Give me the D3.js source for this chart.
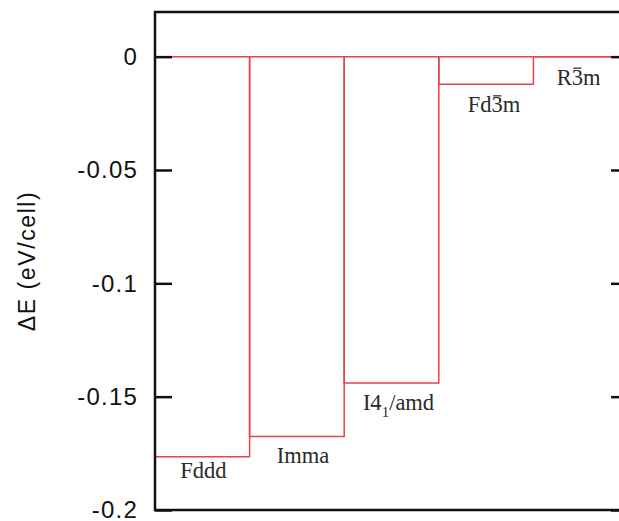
<!DOCTYPE html>
<html>
<head>
<meta charset="utf-8">
<script src="https://cdn.jsdelivr.net/npm/d3@7/dist/d3.min.js"></script>
<style>
  html, body { margin: 0; padding: 0; background: #fff; overflow: hidden; }
  svg { display: block; }
</style>
</head>
<body>
<svg id="chart" width="619" height="521"></svg>
<script>
// Relative energies of the candidate structures (eV per cell)
const phases = ["Fddd", "Imma", "I4_1/amd", "Fd^3m", "R^3m"];
const deltaE = [-0.1765, -0.1676, -0.1440, -0.0122, 0.0];
const yTicks = [0, -0.05, -0.1, -0.15, -0.2];
const yTickLabels = ["0", "-0.05", "-0.1", "-0.15", "-0.2"];

const svg = d3.select("#chart");
const margin = { left: 155, top: 12, right: 628, bottom: 510 };

const x = d3.scaleLinear().domain([0, phases.length]).range([margin.left, margin.right]);
const y = d3.scaleLinear().domain([-0.2, 0.0197]).range([margin.bottom, margin.top]);

const red = "#e5444e";
const ink = "#111";

// Steps: one box per phase, hanging from zero down to its energy
const g = svg.append("g");
g.selectAll("path.step")
  .data(deltaE)
  .join("path")
  .attr("class", "step")
  .attr("d", (d, i) => `M${x(i)},${y(0)}V${y(d)}H${x(i + 1)}V${y(0)}`)
  .attr("fill", "none")
  .attr("stroke", red)
  .attr("stroke-width", 1.5);

// Zero line across the whole frame
g.append("line")
  .attr("x1", x(0)).attr("x2", x(phases.length))
  .attr("y1", y(0)).attr("y2", y(0))
  .attr("stroke", red).attr("stroke-width", 1.5);

// Phase names under each step ("_" marks a subscript, "^" a barred digit)
const nudgeX = [1, 6, 7, 8, -2];
const nudgeY = [21, 26, 27, 28, 28];
const labels = g.selectAll("text.phase")
  .data(phases)
  .join("text")
  .attr("class", "phase")
  .attr("x", (d, i) => x(i + 0.5) + nudgeX[i])
  .attr("y", (d, i) => y(deltaE[i]) + nudgeY[i])
  .attr("text-anchor", "middle")
  .attr("font-family", "'Liberation Serif', 'Times New Roman', serif")
  .attr("font-size", 22.5)
  .attr("fill", "#2a2a2a");

labels.each(function (d) {
  const t = d3.select(this);
  if (d.includes("_")) {
    const [base, rest] = d.split("_");
    t.append("tspan").text(base);
    t.append("tspan").attr("dy", 7).attr("font-size", 15).text(rest[0]);
    t.append("tspan").attr("dy", -7).text(rest.slice(1));
  } else if (d.includes("^")) {
    const idx = d.indexOf("^");
    t.text(d.replace("^", ""));
    const box = this.getExtentOfChar(idx);
    g.append("line")
      .attr("x1", box.x + 1.5).attr("x2", box.x + box.width - 1.5)
      .attr("y1", box.y + 3.5).attr("y2", box.y + 3.5)
      .attr("stroke", "#2a2a2a").attr("stroke-width", 1.2);
  } else {
    t.text(d);
  }
});

// Left axis with inward ticks
const axisL = d3.axisLeft(y).tickValues(yTicks)
  .tickFormat((d, i) => yTickLabels[i])
  .tickSizeInner(-17).tickSizeOuter(0).tickPadding(17);
const gl = svg.append("g").attr("transform", `translate(${margin.left},0)`).call(axisL);
gl.select(".domain").remove();
gl.selectAll(".tick line").attr("stroke", ink).attr("stroke-width", 2.5);
gl.selectAll(".tick text")
  .attr("font-family", "'Liberation Sans', Arial, Helvetica, sans-serif")
  .attr("font-size", 24)
  .attr("letter-spacing", 1.2)
  .attr("fill", ink);

// Right axis: ticks only (the frame's right edge lies just past the page)
const axisR = d3.axisRight(y).tickValues(yTicks).tickFormat("")
  .tickSizeInner(-17).tickSizeOuter(0);
const gr = svg.append("g").attr("transform", `translate(${margin.right},0)`).call(axisR);
gr.select(".domain").remove();
gr.selectAll(".tick line").attr("stroke", ink).attr("stroke-width", 2.5);

// Frame: top, left and bottom edges
svg.append("path")
  .attr("d", `M${margin.right},${margin.top}H${margin.left}V${margin.bottom}H${margin.right}`)
  .attr("fill", "none").attr("stroke", ink).attr("stroke-width", 2.5);

// Axis title
svg.append("text")
  .attr("transform", `translate(35, ${(margin.top + margin.bottom) / 2}) rotate(-90)`)
  .attr("text-anchor", "middle")
  .attr("font-family", "'Liberation Sans', Arial, Helvetica, sans-serif")
  .attr("font-size", 23)
  .attr("letter-spacing", 1.6)
  .attr("fill", ink)
  .text("\u0394E (eV/cell)");
</script>
</body>
</html>
